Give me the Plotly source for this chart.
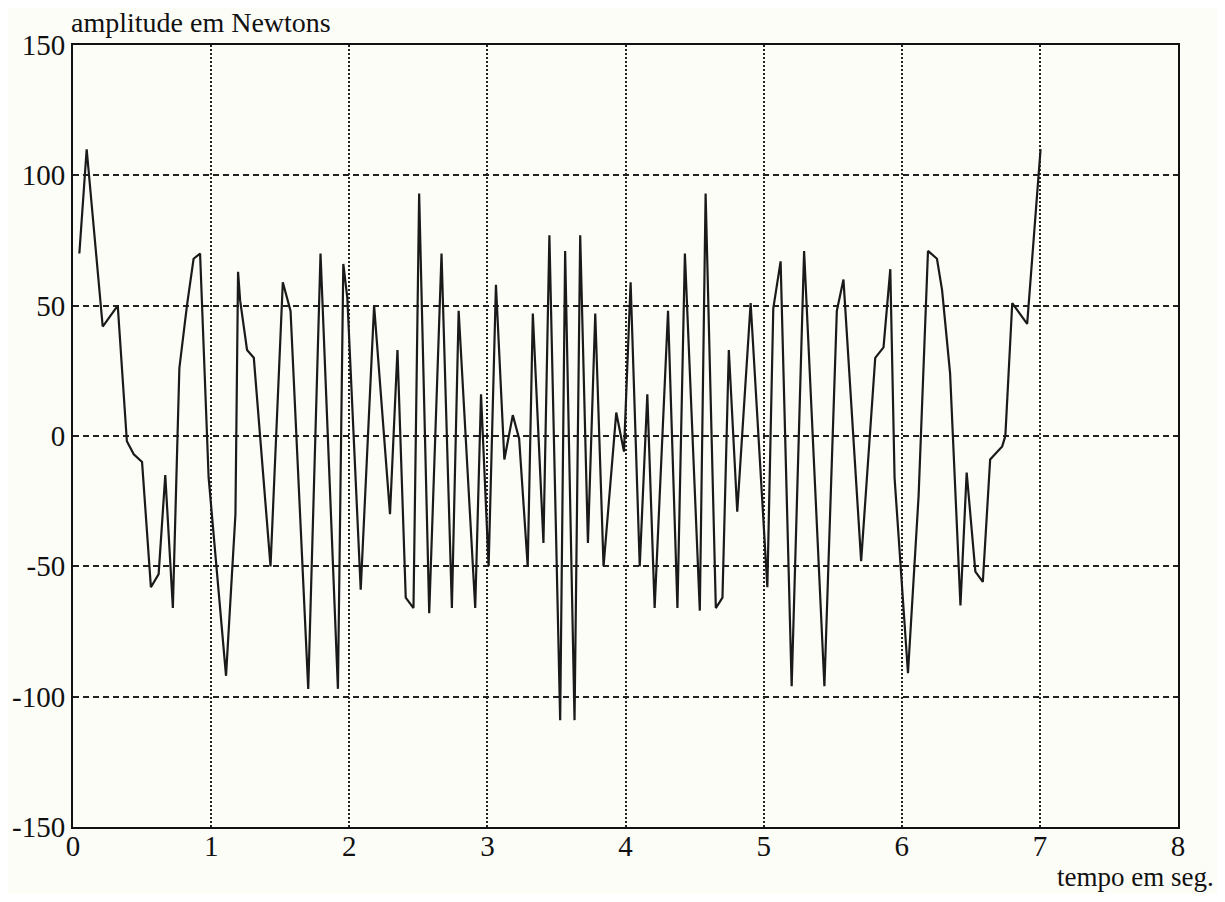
import plotly.graph_objects as go

# time (s) and amplitude (N)
tempo = [0.046, 0.099, 0.215, 0.324, 0.39, 0.44, 0.50, 0.564, 0.62, 0.668,
         0.723, 0.77, 0.825, 0.873, 0.92, 0.946, 0.982, 1.108, 1.176, 1.195,
         1.21, 1.26, 1.309, 1.43, 1.519, 1.575, 1.703, 1.792, 1.918, 1.957,
         1.986, 2.083, 2.18, 2.295, 2.349, 2.409, 2.465, 2.506, 2.579, 2.668,
         2.743, 2.792, 2.912, 2.954, 3.009, 3.062, 3.123, 3.184, 3.23, 3.292,
         3.329, 3.406, 3.449, 3.527, 3.563, 3.631, 3.672, 3.728, 3.781, 3.841,
         3.933, 3.989, 4.037, 4.103, 4.158, 4.211, 4.308, 4.376, 4.43, 4.538,
         4.58, 4.654, 4.702, 4.748, 4.809, 4.906, 5.027, 5.07, 5.123, 5.203,
         5.293, 5.44, 5.53, 5.578, 5.706, 5.808, 5.868, 5.917, 5.948, 6.045,
         6.122, 6.19, 6.255, 6.292, 6.35, 6.425, 6.47, 6.533, 6.587, 6.64,
         6.727, 6.75, 6.80, 6.908, 7.005]
amplitude = [70, 110, 42, 50, -2, -7, -10, -58, -53, -15,
             -66, 26, 50, 68, 70, 36, -16, -92, -30, 63,
             52, 33, 30, -50, 59, 48, -97, 70, -97, 66,
             53, -59, 50, -30, 33, -62, -66, 93, -68, 70,
             -66, 48, -66, 16, -50, 58, -9, 8, -1, -50,
             47, -41, 77, -109, 71, -109, 77, -41, 47, -50,
             9, -6, 59, -50, 16, -66, 48, -66, 70, -67,
             93, -66, -62, 33, -29, 51, -58, 49, 67, -96,
             71, -96, 48, 60, -48, 30, 34, 64, -16, -91,
             -23, 71, 68, 56, 24, -65, -14, -52, -56, -9,
             -4, 0, 51, 43, 110]

x_ticks = [0, 1, 2, 3, 4, 5, 6, 7, 8]
y_ticks = [-150, -100, -50, 0, 50, 100, 150]

serif = "Liberation Serif"
bg = "#fdfdf8"

fig = go.Figure()
fig.add_trace(go.Scatter(x=tempo, y=amplitude, mode="lines",
                         line=dict(color="#1a1a1a", width=2.2), showlegend=False))

fig.update_layout(
    width=1209, height=886,
    margin=dict(l=65, r=39, t=37, b=67),
    paper_bgcolor=bg, plot_bgcolor=bg,
    font=dict(family=serif, color="#111111", size=29),
    xaxis=dict(range=[0, 8], tickvals=x_ticks, ticktext=[str(v) for v in x_ticks],
               showgrid=True, gridcolor="#222222", gridwidth=1.5, griddash="2px,2px",
               showline=True, linecolor="#111111", linewidth=2, mirror=True,
               zeroline=False, ticks="", ticklabelstandoff=-8, automargin=False,
               tickfont=dict(family=serif, size=29)),
    yaxis=dict(range=[-150, 150], tickvals=y_ticks, ticktext=[str(v) for v in y_ticks],
               showgrid=True, gridcolor="#222222", gridwidth=1.5, griddash="6px,4px",
               showline=True, linecolor="#111111", linewidth=2, mirror=True,
               zeroline=False, ticks="", automargin=False,
               tickfont=dict(family=serif, size=29)),
    annotations=[
        dict(text="amplitude em Newtons", xref="paper", yref="paper", x=0, y=1,
             xanchor="left", yanchor="middle", xshift=-4, yshift=23, showarrow=False,
             font=dict(family=serif, size=28, color="#111111")),
        dict(text="tempo em seg.", xref="paper", yref="paper", x=1, y=0,
             xanchor="right", yanchor="middle", xshift=38, yshift=-50, showarrow=False,
             font=dict(family=serif, size=27, color="#111111")),
    ],
)

fig.write_html("out.html")
